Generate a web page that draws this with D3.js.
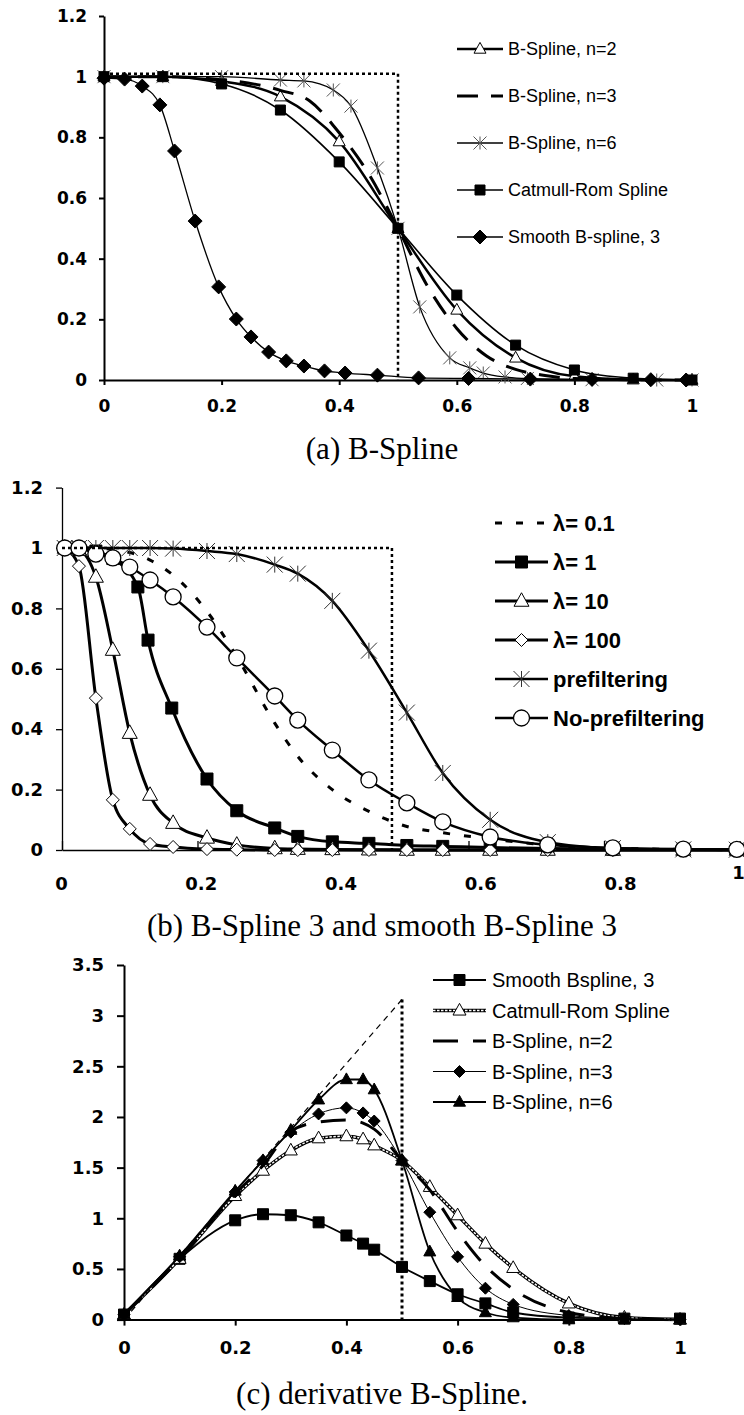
<!DOCTYPE html>
<html>
<head>
<meta charset="utf-8">
<script src="https://cdn.jsdelivr.net/npm/d3@7"></script>
<style>
body { margin: 0; background: #fff; }
svg { display: block; }
</style>
</head>
<body>
<div id="chart"></div>
<script>
// ---------- (a) B-Spline
const xTicksA = [0, 0.2, 0.4, 0.6, 0.8, 1]
const yTicksA = [0, 0.2, 0.4, 0.6, 0.8, 1, 1.2]
const xA = [0, 0.1, 0.2, 0.3, 0.4, 0.5, 0.6, 0.7, 0.8, 0.9, 1]
const bs2A = [1, 1, 0.985, 0.934, 0.786, 0.5, 0.231, 0.073, 0.012, 0.001, 0]
const catmullA = [1, 1, 0.976, 0.89, 0.719, 0.5, 0.28, 0.115, 0.033, 0.006, 0]
const xA3 = [0, 0.1, 0.2, 0.3, 0.35, 0.4, 0.45, 0.5, 0.55, 0.6, 0.65, 0.7, 0.75, 0.8, 0.9, 1]
const bs3A = [1, 1, 0.99, 0.955, 0.92, 0.815, 0.68, 0.5, 0.31, 0.17, 0.08, 0.035, 0.015, 0.005, 0.001, 0]
const xA6 = [0, 0.1, 0.2, 0.3, 0.34, 0.39, 0.42, 0.465, 0.5, 0.537, 0.588, 0.622, 0.645, 0.682, 0.72, 0.83, 0.94, 1]
const bs6A = [1, 1, 1, 0.989, 0.986, 0.956, 0.903, 0.699, 0.5, 0.241, 0.073, 0.04, 0.023, 0.01, 0.005, 0.001, 0, 0]
const xAs = [0, 0.035, 0.065, 0.095, 0.12, 0.155, 0.195, 0.225, 0.25, 0.28, 0.31, 0.34, 0.375, 0.41, 0.465, 0.535, 0.62, 0.725, 0.83, 0.93, 0.99]
const smoothA = [0.995, 0.992, 0.969, 0.907, 0.755, 0.524, 0.307, 0.201, 0.142, 0.092, 0.063, 0.046, 0.03, 0.023, 0.016, 0.007, 0.005, 0.003, 0.002, 0.001, 0]
const idealAx = [0, 0.5, 0.5]
const idealAy = [1.01, 1.01, 0]

// ---------- (b) B-Spline 3 and smooth B-Spline 3
const xTicksB = [0, 0.2, 0.4, 0.6, 0.8, 1]
const yTicksB = [0, 0.2, 0.4, 0.6, 0.8, 1, 1.2]
const xB = [0.004, 0.025, 0.05, 0.075, 0.1, 0.13, 0.164, 0.214, 0.258, 0.314, 0.348, 0.399, 0.453, 0.509, 0.562, 0.632, 0.717, 0.813, 0.917, 0.996]
const xB1 = [0.004, 0.025, 0.05, 0.075, 0.112, 0.127, 0.162, 0.214, 0.258, 0.314, 0.348, 0.399, 0.453, 0.509, 0.562, 0.632, 0.717, 0.813, 0.917, 0.996]
const lam01B = [1, 1, 1, 0.995, 0.985, 0.96, 0.91, 0.79, 0.64, 0.42, 0.31, 0.2, 0.128, 0.078, 0.057, 0.037, 0.016, 0.006, 0.002, 0.001]
const lam1B = [1, 1, 0.99, 0.965, 0.871, 0.695, 0.47, 0.235, 0.13, 0.073, 0.045, 0.027, 0.022, 0.015, 0.012, 0.008, 0.005, 0.003, 0.002, 0.001]
const lam10B = [1, 0.993, 0.904, 0.662, 0.387, 0.182, 0.089, 0.04, 0.017, 0.005, 0.003, 0.002, 0.001, 0, 0, 0, 0, 0, 0, 0]
const lam100B = [1, 0.94, 0.503, 0.166, 0.07, 0.02, 0.01, 0.003, 0.001, 0, 0, 0, 0, 0, 0, 0, 0, 0, 0, 0]
const preB = [1, 1, 1, 1, 1, 1, 0.998, 0.99, 0.98, 0.945, 0.915, 0.825, 0.66, 0.455, 0.255, 0.1, 0.026, 0.006, 0.002, 0.001]
const noPreB = [1, 1, 0.98, 0.967, 0.937, 0.894, 0.838, 0.738, 0.636, 0.51, 0.43, 0.331, 0.232, 0.156, 0.093, 0.043, 0.017, 0.007, 0.003, 0.002]
const idealBx = [0, 0.487, 0.487]
const idealBy = [1, 1, 0]

// ---------- (c) derivative B-Spline
const xTicksC = [0, 0.2, 0.4, 0.6, 0.8, 1]
const yTicksC = [0, 0.5, 1, 1.5, 2, 2.5, 3, 3.5]
const xC = [0, 0.1, 0.2, 0.25, 0.3, 0.35, 0.4, 0.43, 0.45, 0.5, 0.55, 0.6, 0.65, 0.7, 0.8, 0.9, 1]
const smoothC = [0.05, 0.6, 0.98, 1.04, 1.03, 0.96, 0.83, 0.75, 0.69, 0.52, 0.38, 0.25, 0.16, 0.07, 0.02, 0.01, 0.01]
const catmullC = [0.05, 0.6, 1.22, 1.47, 1.67, 1.79, 1.81, 1.78, 1.72, 1.57, 1.31, 1.03, 0.75, 0.51, 0.16, 0.02, 0]
const bs2C = [0.05, 0.6, 1.24, 1.52, 1.86, 1.95, 1.97, 1.94, 1.88, 1.57, 1.28, 0.87, 0.53, 0.3, 0.07, 0.01, 0]
const bs3C = [0.05, 0.62, 1.26, 1.57, 1.85, 2.03, 2.09, 2.04, 1.96, 1.57, 1.06, 0.62, 0.31, 0.15, 0.04, 0.01, 0]
const bs6C = [0.05, 0.63, 1.27, 1.57, 1.87, 2.17, 2.37, 2.37, 2.27, 1.57, 0.67, 0.22, 0.07, 0.02, 0, 0, 0]
const slopeCx = [0, 0.5]
const slopeCy = [0, 3.16]
const dropCx = [0.5, 0.5]
const dropCy = [3.16, 0]

const svg = d3.select("#chart").append("svg").attr("width", 744).attr("height", 1415)

function markerPath(shape, s) {
    const h = s / 2
    if (shape === "square") return `M${-h},${-h}h${s}v${s}h${-s}Z`
    if (shape === "diamond") return `M0,${-h}L${h},0L0,${h}L${-h},0Z`
    if (shape === "triangle") return `M0,${-0.55 * s}L${h},${0.35 * s}L${-h},${0.35 * s}Z`
    // asterisk: x plus a vertical stroke
    return `M${-h},${-h}L${h},${h}M${-h},${h}L${h},${-h}M0,${-h}V${h}`
}

function drawMarkers(g, pts, m) {
    if (m.shape === "circle") {
        g.selectAll(null).data(pts).join("circle")
            .attr("cx", d => d[0]).attr("cy", d => d[1]).attr("r", m.size / 2)
            .attr("fill", m.fill).attr("stroke", "#000").attr("stroke-width", m.sw || 1)
        return
    }
    g.selectAll(null).data(pts).join("path")
        .attr("transform", d => `translate(${d[0]},${d[1]})`)
        .attr("d", markerPath(m.shape, m.size))
        .attr("fill", m.shape === "asterisk" ? "none" : m.fill)
        .attr("stroke", m.stroke || "#000")
        .attr("stroke-width", m.sw || 1)
}

function drawLine(g, pts, s, curve) {
    const line = d3.line().curve(curve || d3.curveLinear)
    g.append("path").attr("d", line(pts)).attr("fill", "none")
        .attr("stroke", "#000").attr("stroke-width", s.w)
        .attr("stroke-dasharray", s.dash || null)
    if (s.chain) {
        g.append("path").attr("d", line(pts)).attr("fill", "none")
            .attr("stroke", "#fff").attr("stroke-width", s.w - 2)
            .attr("stroke-dasharray", "2.5,1.5")
    }
}

function drawPanel(p) {
    const g = svg.append("g")

    // axes
    const ax = g.append("g").attr("transform", `translate(0,${p.y(0)})`)
        .call(d3.axisBottom(p.x).tickValues(p.xTicks).tickSizeInner(p.xTickSize).tickSizeOuter(0)
            .tickPadding(p.xPad).tickFormat(p.xLabels ? "" : d3.format("~g")))
    const ay = g.append("g").attr("transform", `translate(${p.x(0)},0)`)
        .call(d3.axisLeft(p.y).tickValues(p.yTicks).tickSizeInner(p.yTickSize).tickSizeOuter(0)
            .tickPadding(p.yPad).tickFormat(d3.format("~g")))
    ;[ax, ay].forEach(a => {
        a.attr("font-family", "DejaVu Sans").attr("font-size", p.tickFont).attr("font-weight", "bold")
        a.selectAll("path, line").attr("stroke", "#000").attr("stroke-width", p.axisW)
        a.selectAll("text").attr("fill", "#000")
    })
    if (p.xLabels) {
        // labels of panel (b) sit on their own (uneven) scale
        const lab = g.append("g").attr("transform", `translate(0,${p.y(0)})`)
            .call(d3.axisBottom(p.xLabels).tickValues(p.xTicks).tickSize(0).tickPadding(p.xPad).tickFormat(d3.format("~g")))
        lab.attr("font-family", "DejaVu Sans").attr("font-size", p.tickFont).attr("font-weight", "bold")
        lab.select(".domain").remove()
        lab.selectAll("text").attr("fill", "#000")
        lab.selectAll(".tick").filter(d => d === 1).select("text").attr("y", p.xPad - 11)
    }

    // series
    const curve = d3.curveMonotoneX
    p.series.forEach(s => {
        const pts = s.x.map((v, i) => [p.x(v), p.y(s.y[i])])
        const sg = g.append("g")
        drawLine(sg, pts, s, curve)
        if (s.m) drawMarkers(sg, pts, s.m)
    })
    p.ideal.forEach(s => {
        const pts = s.x.map((v, i) => [p.x(v), p.y(s.y[i])])
        drawLine(g.append("g"), pts, s)
    })

    // legend
    const L = p.legend
    p.series.forEach((s, i) => {
        const y = L.y0 + i * L.dy
        const lg = g.append("g")
        drawLine(lg, [[L.x0, y], [L.x1, y]], s)
        if (s.m) drawMarkers(lg, [[(L.x0 + L.x1) / 2, y]], s.m)
        lg.append("text").attr("x", L.tx).attr("y", y).attr("dy", "0.36em")
            .attr("font-family", "Liberation Sans, Arial").attr("font-size", L.font)
            .attr("font-weight", L.bold ? "bold" : "normal").attr("fill", "#000")
            .text(s.name)
    })

    // caption
    g.append("text").attr("x", 382).attr("y", p.captionY).attr("text-anchor", "middle")
        .attr("font-family", "Liberation Serif, Times New Roman").attr("font-size", 31)
        .attr("fill", "#000").text(p.caption)
}

drawPanel({
    x: d3.scaleLinear().domain([0, 1]).range([104, 692]),
    y: d3.scaleLinear().domain([0, 1.2]).range([380, 16]),
    xTicks: xTicksA, yTicks: yTicksA,
    xTickSize: 5, xPad: 15, yTickSize: 5, yPad: 12, tickFont: 17, axisW: 2,
    series: [
        {name: "B-Spline, n=2", x: xA, y: bs2A, w: 2.5, m: {shape: "triangle", size: 12, fill: "#fff"}},
        {name: "B-Spline, n=3", x: xA3, y: bs3A, w: 3, dash: "21,13"},
        {name: "B-Spline, n=6", x: xA6, y: bs6A, w: 1.3, m: {shape: "asterisk", size: 13, stroke: "#555"}},
        {name: "Catmull-Rom Spline", x: xA, y: catmullA, w: 1.6, m: {shape: "square", size: 10, fill: "#000"}},
        {name: "Smooth B-spline, 3", x: xAs, y: smoothA, w: 1.3, m: {shape: "diamond", size: 14, fill: "#000"}}
    ],
    ideal: [{x: idealAx, y: idealAy, w: 2.5, dash: "3,3"}],
    legend: {x0: 457, x1: 503, tx: 508, y0: 49, dy: 47, font: 18},
    caption: "(a) B-Spline", captionY: 459
})

drawPanel({
    x: d3.scaleLinear().domain([0, 1]).range([62, 739.5]),
    xLabels: d3.scaleLinear().domain([0, 0.8, 1]).range([61, 620, 738]),
    y: d3.scaleLinear().domain([0, 1.2]).range([850, 487.6]),
    xTicks: xTicksB, yTicks: yTicksB,
    xTickSize: -9, xPad: 27, yTickSize: 6, yPad: 13, tickFont: 18, axisW: 1.3,
    series: [
        {name: "λ= 0.1", x: xB, y: lam01B, w: 3, dash: "7,14"},
        {name: "λ= 1", x: xB1, y: lam1B, w: 3, m: {shape: "square", size: 12, fill: "#000"}},
        {name: "λ= 10", x: xB, y: lam10B, w: 3, m: {shape: "triangle", size: 15, fill: "#fff"}},
        {name: "λ= 100", x: xB, y: lam100B, w: 3, m: {shape: "diamond", size: 13, fill: "#fff"}},
        {name: "prefiltering", x: xB, y: preB, w: 2.5, m: {shape: "asterisk", size: 16, stroke: "#333"}},
        {name: "No-prefiltering", x: xB, y: noPreB, w: 2.5, m: {shape: "circle", size: 16, fill: "#fff", sw: 1.3}}
    ],
    ideal: [{x: idealBx, y: idealBy, w: 2.5, dash: "3,3"}],
    legend: {x0: 495, x1: 548, tx: 553, y0: 523, dy: 39, font: 22, bold: true},
    caption: "(b) B-Spline 3 and smooth B-Spline 3", captionY: 936
})

drawPanel({
    x: d3.scaleLinear().domain([0, 1]).range([124, 680]),
    y: d3.scaleLinear().domain([0, 3.5]).range([1319.6, 965]),
    xTicks: xTicksC, yTicks: yTicksC,
    xTickSize: 6, xPad: 16, yTickSize: 7, yPad: 13, tickFont: 18, axisW: 2,
    series: [
        {name: "Smooth Bspline, 3", x: xC, y: smoothC, w: 1.8, m: {shape: "square", size: 11, fill: "#000"}},
        {name: "Catmull-Rom Spline", x: xC, y: catmullC, w: 3.5, chain: true, m: {shape: "triangle", size: 13, fill: "#fff"}},
        {name: "B-Spline, n=2", x: xC, y: bs2C, w: 3, dash: "25,15"},
        {name: "B-Spline, n=3", x: xC, y: bs3C, w: 1, m: {shape: "diamond", size: 12, fill: "#000"}},
        {name: "B-Spline, n=6", x: xC, y: bs6C, w: 1.8, m: {shape: "triangle", size: 12, fill: "#000"}}
    ],
    ideal: [
        {x: slopeCx, y: slopeCy, w: 1.2, dash: "6,5"},
        {x: dropCx, y: dropCy, w: 3, dash: "3,3"}
    ],
    legend: {x0: 433, x1: 486, tx: 492, y0: 980, dy: 30.5, font: 20},
    caption: "(c) derivative B-Spline.", captionY: 1404
})
</script>
</body>
</html>
